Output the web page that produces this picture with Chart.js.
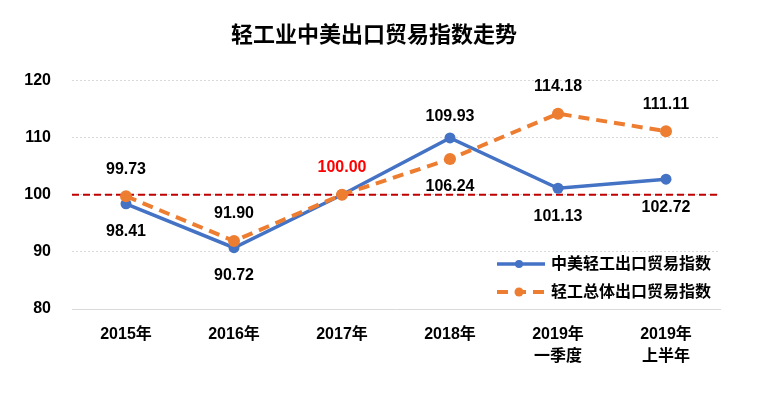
<!DOCTYPE html>
<html>
<head>
<meta charset="utf-8">
<title>轻工业中美出口贸易指数走势</title>
<script src="https://cdn.jsdelivr.net/npm/chart.js@4/dist/chart.umd.min.js"></script>
<style>
  html, body { margin: 0; padding: 0; background: #fff; }
  #wrap { width: 763px; height: 394px; }
</style>
</head>
<body>
<div id="wrap"><canvas id="chart" width="763" height="394"></canvas></div>
<script>
// data
const categories = ['2015年', '2016年', '2017年', '2018年', ['2019年', '一季度'], ['2019年', '上半年']];
const usLight = [98.41, 90.72, 100.00, 109.93, 101.13, 102.72];
const allLight = [99.73, 91.90, 100.00, 106.24, 114.18, 111.11];
const seriesNames = ['中美轻工出口贸易指数', '轻工总体出口贸易指数'];
const yTicks = [80, 90, 100, 110, 120];
const baseline = 100;

// where each value label sits (above / below / none)
const usLabelPos = ['below', 'below', 'none', 'above', 'below', 'below'];
const allLabelPos = ['above', 'above', 'above', 'below', 'above', 'above'];
const usLabelNudge = [0, 0, 0, 6, 0, 0];

const FONT = '"Liberation Sans", Arial, "Noto Sans CJK SC", sans-serif';
const BLUE = '#4472C4';
const ORANGE = '#ED7D31';
const RED = '#C00000';

// the title sits a little right of the padded box centre
const shiftTitle = {
    id: 'shiftTitle',
    afterLayout(chart) {
        const t = chart.titleBlock;
        if (!t) return;
        t.left += 14;
        t.right += 14;
    }
};

// red dashed reference line at the baseline value
const baselinePlugin = {
    id: 'baseline',
    beforeDatasetsDraw(chart) {
        const { ctx, chartArea } = chart;
        const y = chart.scales.y.getPixelForValue(baseline);
        ctx.save();
        ctx.strokeStyle = RED;
        ctx.lineWidth = 2;
        ctx.setLineDash([7, 4]);
        ctx.beginPath();
        ctx.moveTo(chartArea.left, y);
        ctx.lineTo(chartArea.right, y);
        ctx.stroke();
        ctx.restore();
    }
};

// value labels next to each point
const valueLabels = {
    id: 'valueLabels',
    afterDatasetsDraw(chart) {
        const { ctx } = chart;
        const placement = [usLabelPos, allLabelPos];
        const nudge = [usLabelNudge, null];
        ctx.save();
        ctx.font = 'bold 16px ' + FONT;
        ctx.textAlign = 'center';
        ctx.textBaseline = 'middle';
        chart.data.datasets.forEach((ds, di) => {
            const meta = chart.getDatasetMeta(di);
            meta.data.forEach((pt, i) => {
                const pos = placement[di][i];
                if (pos === 'none') return;
                const v = ds.data[i];
                let dy = pos === 'above' ? -27 : 28;
                if (nudge[di]) dy += nudge[di][i];
                // the 100.00 reference value is shown in red
                ctx.fillStyle = v === baseline ? '#FF0000' : '#000';
                ctx.fillText(v.toFixed(2), pt.x, pt.y + dy);
            });
        });
        ctx.restore();
    }
};

// legend inside the plot, bottom right
const insideLegend = {
    id: 'insideLegend',
    afterDraw(chart) {
        const { ctx } = chart;
        const x0 = 497, x1 = 545, tx = 551;
        const rows = [264, 292];
        ctx.save();
        chart.data.datasets.forEach((ds, di) => {
            const y = rows[di];
            ctx.strokeStyle = ds.borderColor;
            ctx.lineWidth = ds.borderWidth;
            ctx.setLineDash(ds.borderDash || []);
            ctx.beginPath();
            ctx.moveTo(x0, y);
            ctx.lineTo(x1, y);
            ctx.stroke();
            ctx.setLineDash([]);
            ctx.fillStyle = ds.pointBackgroundColor;
            ctx.beginPath();
            ctx.arc((x0 + x1) / 2 - 2, y, ds.pointRadius - 1.5, 0, Math.PI * 2);
            ctx.fill();
            ctx.fillStyle = '#000';
            ctx.font = 'bold 16px ' + FONT;
            ctx.textAlign = 'left';
            ctx.textBaseline = 'middle';
            ctx.fillText(ds.label, tx, y + 1);
        });
        ctx.restore();
    }
};

const ctx = document.getElementById('chart').getContext('2d');
new Chart(ctx, {
    type: 'line',
    data: {
        labels: categories,
        datasets: [{
            label: seriesNames[0],
            data: usLight,
            borderColor: BLUE,
            backgroundColor: BLUE,
            pointBackgroundColor: BLUE,
            pointBorderColor: BLUE,
            borderWidth: 3.5,
            pointRadius: 5.5,
            pointBorderWidth: 0,
            tension: 0,
            order: 1
        }, {
            label: seriesNames[1],
            data: allLight,
            borderColor: ORANGE,
            backgroundColor: ORANGE,
            pointBackgroundColor: ORANGE,
            pointBorderColor: ORANGE,
            borderWidth: 4,
            borderDash: [11, 7],
            pointRadius: 6,
            pointBorderWidth: 0,
            tension: 0,
            order: 0
        }]
    },
    options: {
        responsive: false,
        animation: false,
        layout: { padding: { left: 0, right: 43, top: 0, bottom: 0 } },
        plugins: {
            legend: { display: false },
            tooltip: { enabled: false },
            title: {
                display: true,
                text: '轻工业中美出口贸易指数走势',
                color: '#000',
                font: { family: '"Noto Sans CJK SC", sans-serif', size: 22, weight: 'bold', lineHeight: 1.2 },
                padding: { top: 20, bottom: 34 }
            }
        },
        scales: {
            x: {
                offset: true,
                grid: { display: false, drawTicks: false },
                border: { display: true, color: '#D9D9D9', width: 1 },
                ticks: {
                    color: '#000',
                    padding: 15,
                    maxRotation: 0,
                    font: { family: FONT, size: 16, weight: 'bold', lineHeight: '22px' }
                },
                afterFit(s) { s.height = 85; }
            },
            y: {
                min: 80,
                max: 120,
                afterBuildTicks(s) { s.ticks = yTicks.map(v => ({ value: v })); },
                grid: {
                    color: (c) => c.tick && c.tick.value === 80 ? 'rgba(0,0,0,0)' : '#D9D9D9',
                    lineWidth: 1,
                    drawTicks: false
                },
                border: { display: false, dash: [2, 2] },
                ticks: {
                    color: '#000',
                    padding: 21,
                    font: { family: FONT, size: 16, weight: 'bold' }
                },
                afterFit(s) { s.width = 72; }
            }
        }
    },
    plugins: [shiftTitle, baselinePlugin, valueLabels, insideLegend]
});
</script>
</body>
</html>
